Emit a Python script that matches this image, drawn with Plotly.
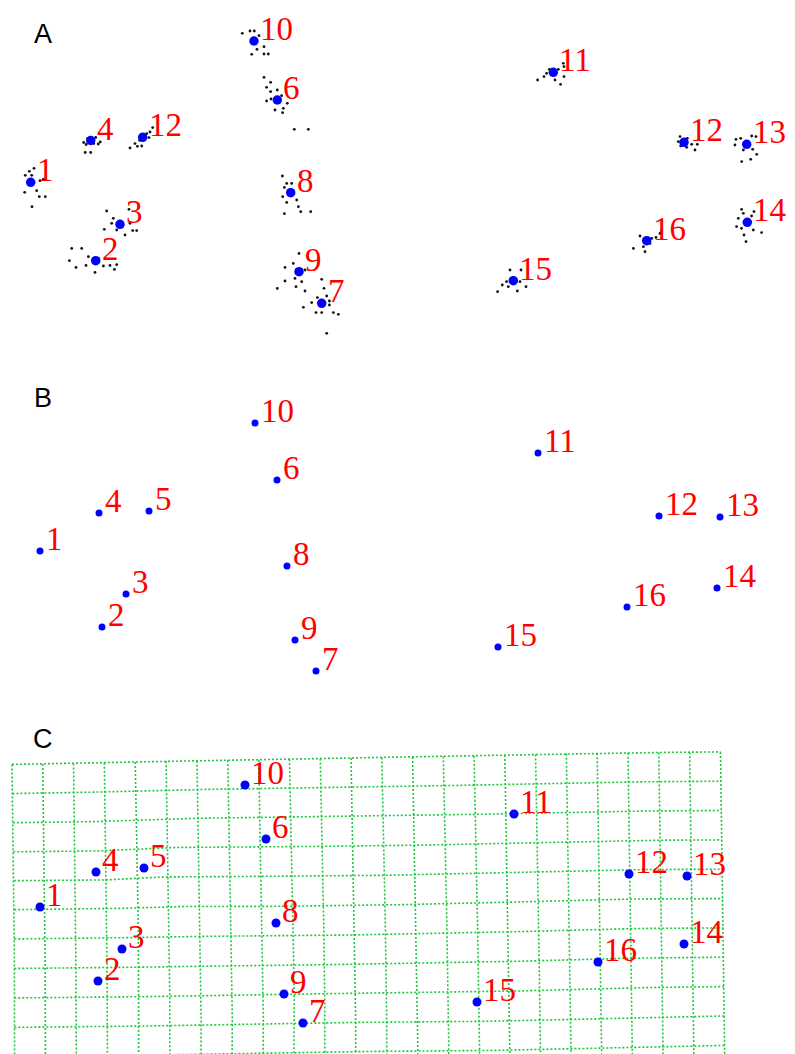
import numpy as np
import plotly.graph_objects as go

# ---------------------------------------------------------------
# Landmark data (digitiser units, y measured downward)
# ---------------------------------------------------------------
# Panel A: per-landmark means of the aligned specimens
MEAN_A_X = [30.7, 95.7, 120.0, 90.7, 142.7, 277.3, 321.7, 290.7, 299.0, 254.0,
            553.3, 684.0, 746.7, 747.3, 513.3, 646.7]
MEAN_A_Y = [182.3, 260.7, 224.3, 140.5, 137.3, 100.0, 303.3, 192.7, 271.7, 41.0,
            72.3, 142.3, 144.3, 222.3, 280.7, 240.7]
LABELS_A = ["1", "2", "3", "4", "12", "6", "7", "8", "9", "10",
            "11", "12", "13", "14", "15", "16"]

# Panel A: specimen deviations from each landmark mean (dx, dy)
SPEC_DEV = [
    [(3.3, -14), (-1.4, -11), (-5.4, -7), (1, -7), (9.3, -1.6), (12.6, -3), (-6, 10),
     (6, 8.4), (8.6, 14.4), (14.6, 14.4), (1.3, 24.4), (-2, 2), (2, -2)],
    [(-24, -12.3), (-14, -12.3), (-26.3, 0), (-19.7, 6.7), (-9.7, 4.7), (-7.3, -4),
     (-0.7, 11.7), (7.7, 5.3), (14.3, 4.7), (18.7, 8.7), (21, 4), (3, -2)],
    [(-13.3, -13.3), (9, -15), (-6.7, -6), (-8.3, -1), (-15.7, 5), (-3.3, 5.7),
     (5, 10.7), (12.7, 6.3), (16.7, 6.3), (10, -1), (2, 2)],
    [(-7, 2), (-4.5, 4), (3, 3), (7.5, 3.5), (9.5, 1.5), (-5.5, 12), (0, 12),
     (5, -3), (-3, -2)],
    [(-12.7, 10.7), (-7.7, 6.3), (-5.3, 9), (-1, 8.7), (4, -3.7), (7.3, -5.3),
     (10, -9.7), (6.3, 0.3), (-3, 3)],
    [(-13.3, -22.7), (-6.7, -17.7), (-10.7, -12.7), (-6.7, -8.3), (0, -10),
     (4.3, -4.3), (-10.7, 1), (-6.3, -1), (10, 3.3), (6, 8.3), (-2.3, 10),
     (5.3, 12.7), (17, 29.3), (31, 29.3)],
    [(0, -24), (2.3, -15), (-4.3, -5.7), (5, -7.3), (-10, -0.7), (7.7, -2.3),
     (7.7, 1.7), (-18.3, 4), (-5.7, 9.3), (0, 9.3), (11.7, 9.3), (16.7, 11), (5, 30)],
    [(-8.3, -16.7), (-4, -9.3), (1, -9.3), (-6.3, -5.3), (-8, 4), (6, 7.3),
     (-4, 9.7), (7.7, 14), (10, 19), (20, 19), (-6.3, 21)],
    [(0, -18.3), (-5.7, -8.3), (-14, -4.3), (6, -1.7), (-4, 6.7), (2.7, 10),
     (-14, 9.3), (-3, 15), (-21.7, 16.7), (6, 19.3)],
    [(-11.7, -7.7), (-4, -10), (0.3, -10), (5, -5.3), (10, 5.7), (3, 8.3),
     (-2.3, 13.3), (10, 13), (14.3, 13)],
    [(-15.7, 7.7), (-9.3, 4.3), (-6.7, 1), (-4, -3), (5, -3), (10, -9),
     (10.7, -5.7), (1.7, 7.7), (7.3, 12), (10.7, 4.3)],
    [(-4, -5.7), (-5.7, -0.7), (-3.3, 3.7), (2.7, 5), (7.7, 2), (13.3, 2),
     (11, 7.7), (3.3, -4)],
    [(-10.7, -5), (-11.7, 0.7), (-6, -6), (5, -8.3), (9.3, -7.7), (6, 5),
     (10, 10), (-5, 17.3), (4, 15), (-3.3, 5.7)],
    [(-5.7, -13), (-4, -9), (-9, -4), (-10.7, 4.3), (-5.7, 6), (-3.3, 12.7),
     (6, 7.7), (14.3, 10.3), (-1.3, 19.3), (4.3, -6.3), (6.7, -10.7)],
    [(-15.7, 11), (-11, 4.3), (-6.7, 1), (-3.3, -10.7), (7.7, -10.7), (6.7, 1),
     (12.7, 6), (4, 10.3), (-5, 6)],
    [(-13.3, 7.7), (-6.7, -4.7), (-3.3, 6), (-1.7, 11), (5, -2.3), (9.3, -3.3),
     (13.3, -7.3), (15, -10), (3.3, 2.7)],
]

# Panel B: consensus configuration
CONS_B_X = [40, 102, 126, 99, 149, 277, 316, 287, 295, 255, 538, 659, 720, 717, 498, 627]
CONS_B_Y = [201, 277, 244, 163, 161, 130, 321, 216, 290, 73, 103, 166, 167, 238, 297, 257]

# Panel C: target configuration shown over the deformation grid
TARG_C_X = [40, 98, 122, 96, 144, 266, 303, 276, 284, 245, 514, 629, 687, 684, 477, 598]
TARG_C_Y = [207, 281, 249, 172, 168, 139, 323, 223, 294, 85, 114, 174, 176, 244, 302, 262]

LABELS = [str(i) for i in range(1, 17)]
PANEL_LETTERS = ["A", "B", "C"]

# ---------------------------------------------------------------
# Styling / layout constants
# ---------------------------------------------------------------
W, H = 795, 1054
PANEL_PX = [(0, 350), (350, 700), (700, 1054)]  # vertical extent of each panel
BLUE = "#0000FF"
RED = "#FF0000"
GREEN = "#1DC83C"
LABEL_FONT = dict(family="Liberation Serif", size=33, color=RED)
LETTER_FONT = dict(family="Liberation Sans", size=27, color="#000000")

GRID_ORIGIN = (12.0, 63.0)
GRID_STEP = (30.8, 29.5)
GRID_COLS, GRID_ROWS = 23, 11
GRID_TILT_DEG = -1.0


# ---------------------------------------------------------------
# Thin-plate spline used to bend the grid from consensus to target
# ---------------------------------------------------------------
def tps_kernel(r2):
    with np.errstate(divide="ignore", invalid="ignore"):
        k = r2 * np.log(r2)
    k[r2 == 0] = 0.0
    return k


def tps_fit(src, dst):
    n = len(src)
    r2 = ((src[:, None, :] - src[None, :, :]) ** 2).sum(-1)
    P = np.hstack([np.ones((n, 1)), src])
    L = np.zeros((n + 3, n + 3))
    L[:n, :n] = tps_kernel(r2)
    L[:n, n:] = P
    L[n:, :n] = P.T
    rhs = np.zeros((n + 3, 2))
    rhs[:n] = dst
    return np.linalg.solve(L, rhs)


def tps_apply(coef, src, pts):
    n = len(src)
    r2 = ((pts[:, None, :] - src[None, :, :]) ** 2).sum(-1)
    P = np.hstack([np.ones((len(pts), 1)), pts])
    return tps_kernel(r2) @ coef[:n] + P @ coef[n:]


SC = 100.0  # work in scaled units for a well-conditioned solve
ref = np.column_stack([CONS_B_X, CONS_B_Y]) / SC
tgt = np.column_stack([TARG_C_X, TARG_C_Y]) / SC
# affine pre-alignment of the consensus onto the target
aff, *_ = np.linalg.lstsq(np.hstack([ref, np.ones((len(ref), 1))]), tgt, rcond=None)
ref_al = np.hstack([ref, np.ones((len(ref), 1))]) @ aff
coef = tps_fit(ref_al, tgt)

th = np.deg2rad(GRID_TILT_DEG)
ex = np.array([np.cos(th), np.sin(th)])
ey = np.array([-np.sin(th), np.cos(th)])
org = np.array(GRID_ORIGIN)
sub = 8

grid_x, grid_y = [], []
# horizontal lines
for j in range(GRID_ROWS + 1):
    u = np.linspace(0, GRID_COLS * GRID_STEP[0], GRID_COLS * sub + 1)
    pts = org + u[:, None] * ex + (j * GRID_STEP[1]) * ey
    wp = tps_apply(coef, ref_al, pts / SC) * SC
    grid_x += list(wp[:, 0]) + [None]
    grid_y += list(wp[:, 1]) + [None]
# vertical lines
for i in range(GRID_COLS + 1):
    v = np.linspace(0, GRID_ROWS * GRID_STEP[1], GRID_ROWS * sub + 1)
    pts = org + (i * GRID_STEP[0]) * ex + v[:, None] * ey
    wp = tps_apply(coef, ref_al, pts / SC) * SC
    grid_x += list(wp[:, 0]) + [None]
    grid_y += list(wp[:, 1]) + [None]

# ---------------------------------------------------------------
# Figure
# ---------------------------------------------------------------
fig = go.Figure()

# Panel A: specimen scatter then means
dot_x, dot_y = [], []
for mx, my, devs in zip(MEAN_A_X, MEAN_A_Y, SPEC_DEV):
    for dx, dy in devs:
        dot_x.append(mx + dx)
        dot_y.append(my + dy)
fig.add_trace(go.Scatter(x=dot_x, y=dot_y, mode="markers", xaxis="x", yaxis="y",
                         marker=dict(size=2.8, color="#111111"), hoverinfo="skip"))
fig.add_trace(go.Scatter(x=MEAN_A_X, y=MEAN_A_Y, mode="markers", xaxis="x", yaxis="y",
                         marker=dict(size=9.5, color=BLUE)))

# Panel B: consensus
fig.add_trace(go.Scatter(x=CONS_B_X, y=CONS_B_Y, mode="markers", xaxis="x2", yaxis="y2",
                         marker=dict(size=7, color=BLUE)))

# Panel C: deformation grid and target landmarks
fig.add_trace(go.Scatter(x=grid_x, y=grid_y, mode="lines", xaxis="x3", yaxis="y3",
                         line=dict(color=GREEN, width=1.6, dash="2px,2px"),
                         hoverinfo="skip", connectgaps=False))
fig.add_trace(go.Scatter(x=TARG_C_X, y=TARG_C_Y, mode="markers", xaxis="x3", yaxis="y3",
                         marker=dict(size=9, color=BLUE)))

annotations = []
panels = [
    ("x", "y", MEAN_A_X, MEAN_A_Y, LABELS_A),
    ("x2", "y2", CONS_B_X, CONS_B_Y, LABELS),
    ("x3", "y3", TARG_C_X, TARG_C_Y, LABELS),
]
for xr, yr, xs, ys, labs in panels:
    for x, y, t in zip(xs, ys, labs):
        annotations.append(dict(x=x, y=y, xref=xr, yref=yr, text=t, showarrow=False,
                                xanchor="left", yanchor="bottom", xshift=4, yshift=-8,
                                font=LABEL_FONT))

LETTER_POS = [(42.5, 34), (42.5, 48), (43, 39)]
for (xr, yr, *_), letter, (lx, ly) in zip(panels, PANEL_LETTERS, LETTER_POS):
    annotations.append(dict(x=lx, y=ly, xref=xr, yref=yr, text=letter, showarrow=False,
                            xanchor="center", yanchor="middle", font=LETTER_FONT))


def yaxis_for(k):
    top, bot = PANEL_PX[k]
    return dict(domain=[1 - bot / H, 1 - top / H], range=[bot - top, 0],
                visible=False, showgrid=False, zeroline=False, fixedrange=True)


def xaxis_for():
    return dict(domain=[0, 1], range=[0, W], visible=False, showgrid=False,
                zeroline=False, fixedrange=True)


fig.update_layout(
    width=W, height=H,
    margin=dict(l=0, r=0, t=0, b=0),
    paper_bgcolor="white", plot_bgcolor="white",
    showlegend=False,
    xaxis=dict(**xaxis_for(), anchor="y"),
    yaxis=dict(**yaxis_for(0), anchor="x"),
    xaxis2=dict(**xaxis_for(), anchor="y2"),
    yaxis2=dict(**yaxis_for(1), anchor="x2"),
    xaxis3=dict(**xaxis_for(), anchor="y3"),
    yaxis3=dict(**yaxis_for(2), anchor="x3"),
    annotations=annotations,
)

fig.write_html("out.html")
